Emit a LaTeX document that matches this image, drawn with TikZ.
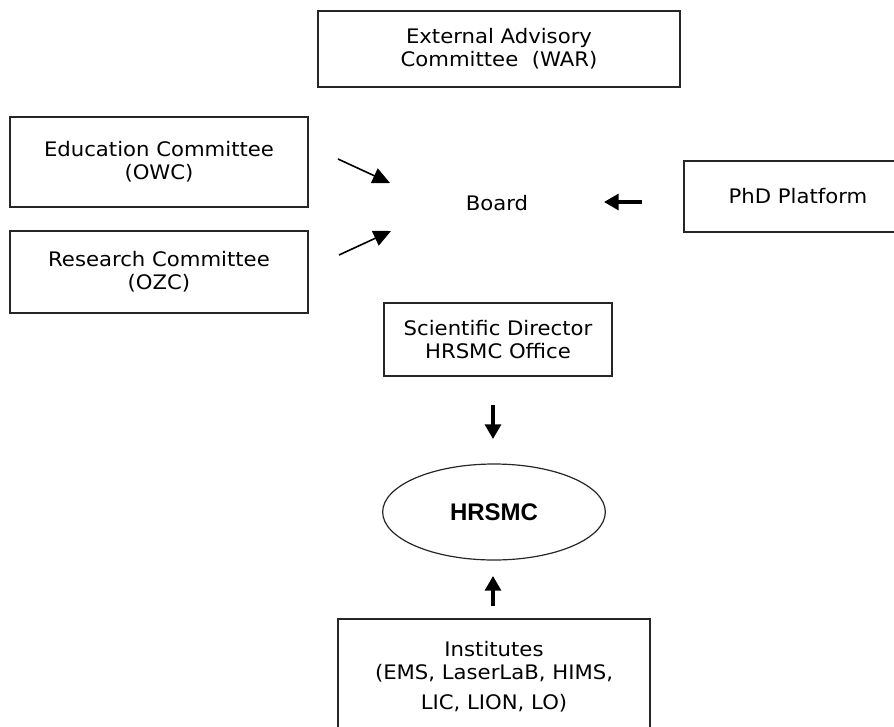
\documentclass[tikz,border=0pt]{standalone}
\usepackage{fontspec}
\setmainfont{DejaVu Sans}[FakeStretch=1.06]
\newfontfamily\hrsmcfont{Liberation Sans}
\usetikzlibrary{arrows.meta, positioning, shapes.geometric}

\begin{document}
\begin{tikzpicture}[
      x=0.75pt,
      y=-0.75pt,
      font=\fontsize{15pt}{17.5pt}\selectfont,
      box/.style={draw=black!85, line width=1pt, align=center, inner sep=0pt},
      ell/.style={ellipse, draw=black!85, line width=0.9pt, inner sep=0pt,
        minimum width=167pt, minimum height=72pt},
      thinarrow/.style={-{Triangle[length=13pt, width=12pt]}, line width=1.2pt},
      thickarrow/.style={-{Triangle[length=11pt, width=12pt]}, line width=2.3pt}
  ]
    \useasboundingbox (0,0) rectangle (894,726);
    % boxes
    \node[box, minimum width=271.5pt, minimum height=57pt] (war) at (499,49)
      {External Advisory\\Committee~~(WAR)};
    \node[box, minimum width=223.5pt, minimum height=67.5pt] (edu) at (159,162)
      {Education Committee\\(OWC)};
    \node[box, minimum width=223.5pt, minimum height=61.5pt] (res) at (159,272)
      {Research Committee\\(OZC)};
    \node[box, minimum width=171pt, minimum height=53.25pt] (phd) at (798,196.5)
      {PhD Platform};
    \node (board) at (497,203) {Board};
    \node[box, minimum width=171pt, minimum height=54.75pt] (sci) at (498,339.5)
      {Scientific Director\\HRSMC Office};
    \node[ell] (hrsmc) at (494,512) {\hrsmcfont\fontsize{18pt}{20pt}\selectfont\bfseries HRSMC};
    \node[box, minimum width=234pt, minimum height=86.25pt] (inst) at (494,676.5)
      {Institutes\\(EMS, LaserLaB, HIMS,\\[5pt]LIC, LION, LO)};
    % arrow ends
    \coordinate (eduTail) at (338,159);
    \coordinate (eduTip) at (390,183);
    \coordinate (resTail) at (339,255);
    \coordinate (resTip) at (391,231);
    \coordinate (phdTail) at (642,202);
    \coordinate (phdTip) at (604,202);
    \coordinate (sciTail) at (493,405);
    \coordinate (sciTip) at (493,439);
    \coordinate (instTail) at (493,606);
    \coordinate (instTip) at (493,576);
    \draw[thinarrow] (eduTail) -- (eduTip);
    \draw[thinarrow] (resTail) -- (resTip);
    \draw[thickarrow] (phdTail) -- (phdTip);
    \draw[thickarrow] (sciTail) -- (sciTip);
    \draw[thickarrow] (instTail) -- (instTip);
\end{tikzpicture}
\end{document}
